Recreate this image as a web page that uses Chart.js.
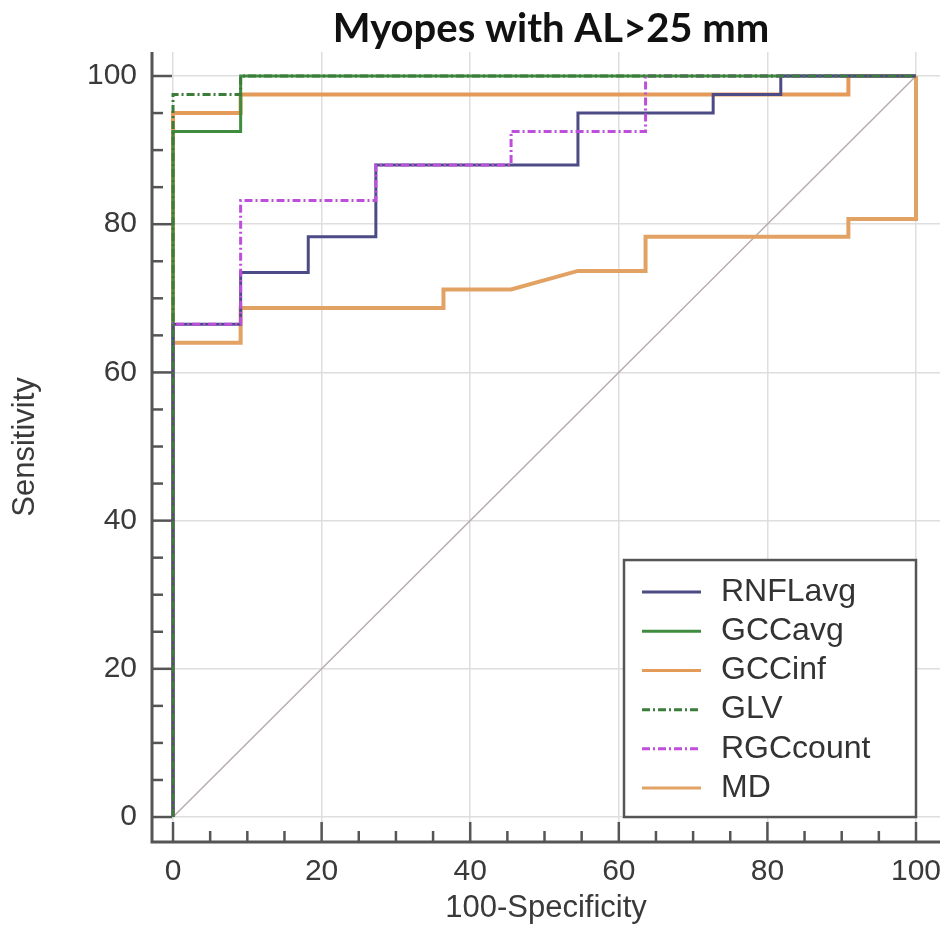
<!DOCTYPE html>
<html>
<head>
<meta charset="utf-8">
<script src="https://cdn.jsdelivr.net/npm/chart.js@4.4.1/dist/chart.umd.min.js"></script>
<style>
  html, body { margin: 0; padding: 0; background: #fff; }
</style>
</head>
<body>
<canvas id="rocChart" width="948" height="942"></canvas>
<script>
const titulo = 'Myopes with AL>25 mm';
const tickValues = [0, 20, 40, 60, 80, 100];
const tickStep = 5;

// 100-Specificity (x) / Sensitivity (y), puntos de cada curva ROC
const rnflX = [0, 0, 9.1, 9.1, 18.2, 18.2, 27.3, 27.3, 54.5, 54.5, 72.7, 72.7, 81.8, 81.8, 100];
const rnflY = [0, 66.5, 66.5, 73.5, 73.5, 78.3, 78.3, 88, 88, 95, 95, 97.5, 97.5, 100, 100];

const gccAvgX = [0, 0, 9.1, 9.1, 100];
const gccAvgY = [0, 92.5, 92.5, 100, 100];

const gccInfX = [0, 0, 9.1, 9.1, 90.9, 90.9, 100];
const gccInfY = [0, 95, 95, 97.5, 97.5, 100, 100];

const glvX = [0, 0, 9.1, 9.1, 100];
const glvY = [0, 97.5, 97.5, 100, 100];

const rgcX = [0, 0, 9.1, 9.1, 27.3, 27.3, 45.5, 45.5, 63.6, 63.6, 100];
const rgcY = [0, 66.5, 66.5, 83.2, 83.2, 88, 88, 92.5, 92.5, 100, 100];

const mdX = [0, 0, 9.1, 9.1, 36.4, 36.4, 45.5, 54.5, 63.6, 63.6, 90.9, 90.9, 100, 100];
const mdY = [0, 64, 64, 68.7, 68.7, 71.2, 71.2, 73.7, 73.7, 78.3, 78.3, 80.7, 80.7, 100];

const refX = [0, 100];
const refY = [0, 100];

const puntos = (xs, ys) => xs.map((x, i) => ({x, y: ys[i]}));
const fuente = '"Liberation Sans", Arial, sans-serif';

const marcasEjes = {
  id: 'marcasEjes',
  afterDraw(chart) {
    const {ctx, chartArea: a, scales: {x, y}} = chart;
    ctx.save();
    ctx.strokeStyle = '#555';
    ctx.lineWidth = 3;
    ctx.beginPath();
    ctx.moveTo(a.left, a.top); ctx.lineTo(a.left, a.bottom); ctx.lineTo(a.right, a.bottom);
    ctx.stroke();
    ctx.lineWidth = 2.5;
    for (let v = 0; v <= 100; v += tickStep) {
      const largo = v % 20 === 0 ? 20 : 11;
      const py = y.getPixelForValue(v);
      ctx.beginPath(); ctx.moveTo(a.left, py); ctx.lineTo(a.left + largo, py); ctx.stroke();
      const px = x.getPixelForValue(v);
      ctx.beginPath(); ctx.moveTo(px, a.bottom); ctx.lineTo(px, a.bottom - largo); ctx.stroke();
    }
    // titulo
    ctx.fillStyle = '#111';
    ctx.font = 'bold 40px Lato, "Open Sans", sans-serif';
    ctx.textAlign = 'center';
    ctx.textBaseline = 'middle';
    ctx.fillText(titulo, 551, 29);
    ctx.restore();
  }
};

const leyenda = {
  id: 'leyenda',
  afterDraw(chart) {
    const {ctx, scales: {x, y}} = chart;
    const right = x.getPixelForValue(100), bottom = y.getPixelForValue(0);
    const w = 292, h = 257, left = right - w, top = bottom - h;
    ctx.save();
    ctx.fillStyle = '#fff';
    ctx.fillRect(left, top, w, h);
    ctx.strokeStyle = '#555';
    ctx.lineWidth = 2.5;
    ctx.strokeRect(left, top, w, h);
    ctx.font = '32px ' + fuente;
    ctx.textBaseline = 'middle';
    chart.data.datasets.filter(d => d.label).forEach((d, i) => {
      const cy = top + 32 + i * 39.2;
      ctx.strokeStyle = d.borderColor;
      ctx.lineWidth = 3;
      ctx.setLineDash(d.borderDash || []);
      ctx.beginPath(); ctx.moveTo(left + 18, cy); ctx.lineTo(left + 77, cy); ctx.stroke();
      ctx.setLineDash([]);
      ctx.fillStyle = '#333';
      ctx.fillText(d.label, left + 97, cy);
    });
    ctx.restore();
  }
};

const serie = (label, xs, ys, color, ancho, orden, dash) => ({
  label, data: puntos(xs, ys), borderColor: color, borderWidth: ancho,
  borderDash: dash || [], order: orden, pointRadius: 0, tension: 0, fill: false
});

new Chart(document.getElementById('rocChart'), {
  type: 'line',
  data: {
    datasets: [
      serie('RNFLavg', rnflX, rnflY, '#4c4b86', 3, 2),
      serie('GCCavg', gccAvgX, gccAvgY, '#3f8c3f', 3, 3),
      serie('GCCinf', gccInfX, gccInfY, '#e49a58', 4, 4),
      serie('GLV', glvX, glvY, '#3a7d3a', 3, 0, [8, 3, 2, 3]),
      serie('RGCcount', rgcX, rgcY, '#bd4fdc', 3, 1, [8, 3, 2, 3]),
      serie('MD', mdX, mdY, '#e2a264', 4, 5),
      serie('', refX, refY, '#b8adad', 1.5, 6)
    ]
  },
  options: {
    responsive: false,
    animation: false,
    layout: { padding: { top: 52, right: 8, left: 0, bottom: 0 } },
    plugins: { legend: { display: false }, tooltip: { enabled: false } },
    scales: {
      x: {
        type: 'linear', min: -2.83, max: 103.23,
        afterBuildTicks: s => { s.ticks = tickValues.map(v => ({value: v})); },
        afterFit: s => { s.height = 100; s.paddingLeft = 0; s.paddingRight = 0; },
        grid: { color: '#dedede', lineWidth: 1.5, drawTicks: false },
        border: { display: false },
        ticks: { padding: 12, color: '#3a3a3a', font: { family: fuente, size: 30 } },
        title: { display: true, text: '100-Specificity', color: '#3a3a3a',
                 font: { family: fuente, size: 31 }, padding: { top: 0, bottom: 15 } }
      },
      y: {
        type: 'linear', min: -3.37, max: 103.24,
        afterBuildTicks: s => { s.ticks = tickValues.map(v => ({value: v})); },
        afterFit: s => { s.width = 152; s.paddingTop = 0; s.paddingBottom = 0; },
        grid: { color: '#dedede', lineWidth: 1.5, drawTicks: false },
        border: { display: false },
        ticks: { padding: 15, color: '#3a3a3a', font: { family: fuente, size: 30 } },
        title: { display: true, text: 'Sensitivity', color: '#3a3a3a',
                 font: { family: fuente, size: 31 }, padding: { top: 7, bottom: 0 } }
      }
    }
  },
  plugins: [marcasEjes, leyenda]
});
</script>
</body>
</html>
